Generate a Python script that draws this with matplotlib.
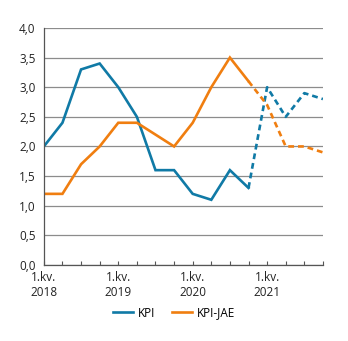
import numpy as np
import matplotlib.pyplot as plt

plt.rcParams['font.family'] = ['Open Sans', 'DejaVu Sans']

# quarters 2018Q1 .. 2021Q4
quarters = ['1.kv.\n2018', '', '', '', '1.kv.\n2019', '', '', '',
            '1.kv.\n2020', '', '', '', '1.kv.\n2021', '', '', '']
kpi = [2.0, 2.4, 3.3, 3.4, 3.0, 2.5, 1.6, 1.6, 1.2, 1.1, 1.6, 1.3,
       3.0, 2.5, 2.9, 2.8]
kpi_jae = [1.2, 1.2, 1.7, 2.0, 2.4, 2.4, 2.2, 2.0, 2.4, 3.0, 3.5, 3.1,
           2.7, 2.0, 2.0, 1.9]
last_actual = 11  # 4. kv. 2020, projections after this

blue = '#107aa6'
orange = '#f07e10'

x = np.arange(len(quarters))

fig = plt.figure(figsize=(3.48, 3.41), dpi=100)
ax = fig.add_axes([0.126, 0.223, 0.802, 0.695])

ax.set_axisbelow(True)
ax.grid(axis='y', color='#8c8c8c', linewidth=0.9)

n = last_actual + 1
ax.plot(x[:n], kpi[:n], color=blue, lw=1.9, label='KPI', solid_joinstyle='miter')
ax.plot(x[last_actual:], kpi[last_actual:], color=blue, lw=1.9, ls=(0, (2.2, 1.5)))
ax.plot(x[:n], kpi_jae[:n], color=orange, lw=1.9, label='KPI-JAE', solid_joinstyle='miter')
ax.plot(x[last_actual:], kpi_jae[last_actual:], color=orange, lw=1.9, ls=(0, (2.2, 1.5)))

ax.set_xlim(0, 15)
ax.set_ylim(0, 4)
ax.set_yticks(np.arange(0, 4.01, 0.5))
ax.set_yticklabels([f'{v:.1f}'.replace('.', ',') for v in np.arange(0, 4.01, 0.5)])
ax.set_xticks(x)
ax.set_xticklabels(quarters)

for s in ['top', 'right']:
    ax.spines[s].set_visible(False)
for s in ['left', 'bottom']:
    ax.spines[s].set_color('#555555')
    ax.spines[s].set_linewidth(0.9)

ax.tick_params(axis='y', length=0, labelsize=8.5, colors='#222222', pad=6)
ax.tick_params(axis='x', direction='in', length=3, color='#555555',
               labelsize=8.5, labelcolor='#222222', pad=4)

fig.legend(loc='center', bbox_to_anchor=(0.5, 0.082), ncol=2, frameon=False,
           fontsize=8.5, handlelength=1.7, columnspacing=1.4, handletextpad=0.45)

fig.savefig('out.png', dpi=100)
